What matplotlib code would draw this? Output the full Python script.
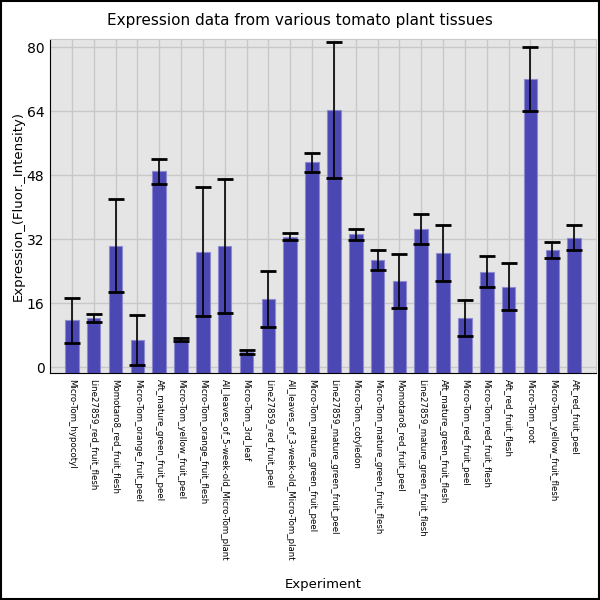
import matplotlib
matplotlib.use('Agg')
import matplotlib.pyplot as plt
from matplotlib.patches import Rectangle

experiments = [
    'Micro-Tom_hypocotyl', 'Line27859_red_fruit_flesh', 'Momotaro8_red_fruit_flesh',
    'Micro-Tom_orange_fruit_peel', 'Aft_mature_green_fruit_peel', 'Micro-Tom_yellow_fruit_peel',
    'Micro-Tom_orange_fruit_flesh', 'All_leaves_of_5-week-old_Micro-Tom_plant', 'Micro-Tom_3rd_leaf',
    'Line27859_red_fruit_peel', 'All_leaves_of_3-week-old_Micro-Tom_plant',
    'Micro-Tom_mature_green_fruit_peel', 'Line27859_mature_green_fruit_peel', 'Micro-Tom_cotyledon',
    'Micro-Tom_mature_green_fruit_flesh', 'Momotaro8_red_fruit_peel',
    'Line27859_mature_green_fruit_flesh', 'Aft_mature_green_fruit_flesh', 'Micro-Tom_red_fruit_peel',
    'Micro-Tom_red_fruit_flesh', 'Aft_red_fruit_flesh', 'Micro-Tom_root',
    'Micro-Tom_yellow_fruit_flesh', 'Aft_red_fruit_peel',
]
expression = [11.7, 12.4, 30.3, 6.8, 48.9, 6.9, 28.9, 30.3, 3.8, 17.1, 32.6,
              51.2, 64.2, 33.2, 26.7, 21.6, 34.5, 28.5, 12.3, 23.9, 20.1, 71.9,
              29.2, 32.4]
errors = [5.6, 1.0, 11.6, 6.2, 3.2, 0.3, 16.0, 16.8, 0.4, 7.0, 0.9,
          2.4, 17.0, 1.4, 2.5, 6.7, 3.7, 7.0, 4.6, 3.9, 5.9, 8.0,
          2.0, 3.1]

fig = plt.figure(figsize=(6, 6), dpi=100)
ax = fig.add_axes([0.0833, 0.378, 0.91, 0.557])

ymin = -1.5
x = list(range(len(experiments)))
heights = [v - ymin for v in expression]
ax.bar(x, heights, bottom=ymin, width=0.62, color='#4b47b3',
       edgecolor='#8d8ad0', linewidth=0.8, zorder=2)
ax.errorbar(x, expression, yerr=errors, fmt='none', ecolor='black',
            elinewidth=1.2, capsize=6, capthick=2, zorder=3)

ax.set_facecolor('#e5e5e5')
ax.set_xlim(-1, len(experiments))
ax.set_ylim(ymin, 82)
ax.set_yticks([0, 16, 32, 48, 64, 80])
ax.set_xticks(x)
ax.set_xticklabels(experiments, rotation=-90, fontsize=6.2)
ax.tick_params(axis='both', length=0, pad=4)
ax.tick_params(axis='y', labelsize=10)
ax.grid(True, color='#c8c8c8', linewidth=1, zorder=0)
ax.set_axisbelow(True)
for s in ['top', 'right']:
    ax.spines[s].set_color('#c8c8c8')
ax.spines['left'].set_color('black')
ax.spines['bottom'].set_color('black')

ax.set_ylabel('Expression_(Fluor._Intensity)', fontsize=9.5)
ax.yaxis.set_label_coords(-0.047, 0.5)
ax.set_xlabel('Experiment', fontsize=9.5)
ax.xaxis.set_label_coords(0.5, -0.612)
fig.text(0.5, 0.966, 'Expression data from various tomato plant tissues',
         ha='center', va='center', fontsize=11)

fig.patches.append(Rectangle((0.001, 0.001), 0.997, 0.997, transform=fig.transFigure,
                             fill=False, edgecolor='black', linewidth=1.5))

fig.savefig('out.png', dpi=100)
